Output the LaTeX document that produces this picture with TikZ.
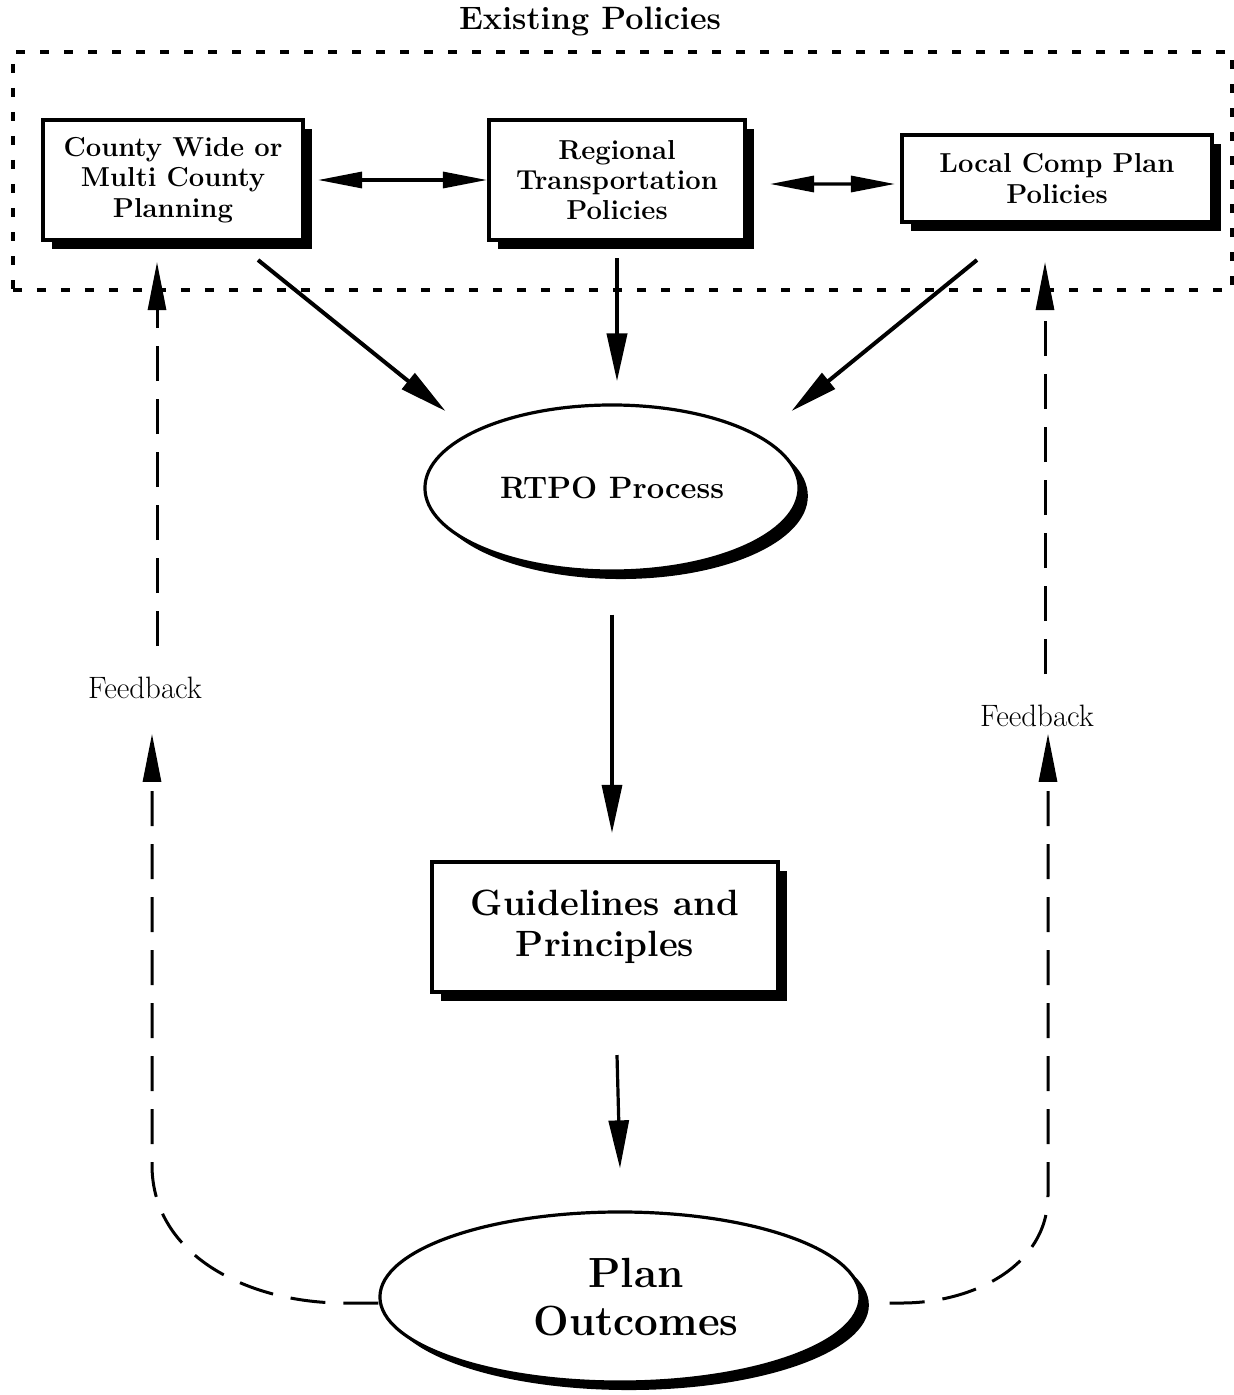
\documentclass[tikz,border=0pt]{standalone}
\usepackage{tikz}
\usetikzlibrary{arrows.meta,shadows,shapes}

\begin{document}
\begin{tikzpicture}[x=0.025cm,y=-0.025cm,
    policybox/.style={draw,line width=1mm,fill=white,align=center,
      font=\fontsize{19.5}{21.5}\selectfont\bfseries,
      drop shadow={shadow xshift=2.25mm,shadow yshift=-2.25mm,fill=black,opacity=1}},
    outcome/.style={ellipse,draw,line width=0.8mm,fill=white,align=center,
      drop shadow={shadow xshift=2.2mm,shadow yshift=-2mm,fill=black,opacity=1}},
    mainarrow/.style={line width=1mm,-{Triangle[length=12mm,width=5mm]}},
    twoway/.style={line width=0.8mm,{Triangle[length=11mm,width=4mm]}-{Triangle[length=11mm,width=4mm]}},
    feedbackline/.style={line width=0.75mm,dash pattern=on 8.75mm off 4.5mm},
    feedbackarrow/.style={feedbackline,-{Triangle[length=12mm,width=4.5mm]}},
    feedlabel/.style={font=\fontsize{22}{26}\selectfont}]
  \useasboundingbox (0,0) rectangle (1234,1395);

  \node[font=\fontsize{23}{27}\selectfont\bfseries] (title1) at (590,22) {Existing Policies};
  \node[draw,line width=1mm,dash pattern=on 2.2mm off 3.8mm,
    minimum width=30.475cm,minimum height=5.95cm] (existing) at (622.5,171) {};

  \node[policybox,minimum width=6.5cm,minimum height=3cm] (county) at (173,180)
    {County Wide or\\Multi County\\Planning};
  \node[policybox,minimum width=6.4cm,minimum height=3cm] (regional) at (617,180)
    {Regional\\Transportation\\Policies};
  \node[policybox,minimum width=7.75cm,minimum height=2.175cm] (localplan) at (1057,178.5)
    {Local Comp Plan\\Policies};

  \node[outcome,minimum width=9.35cm,minimum height=4.15cm,
    font=\fontsize{22}{26}\selectfont\bfseries] (rtpo) at (612,488) {RTPO Process};
  \node[policybox,minimum width=8.65cm,minimum height=3.25cm,
    font=\fontsize{26}{29}\selectfont\bfseries] (guide) at (605,927)
    {Guidelines and\\Principles};
  \node[outcome,minimum width=12cm,minimum height=4.25cm,
    font=\fontsize{30}{34}\selectfont\bfseries] (plan) at (620,1297)
    {\hspace*{0.8cm}Plan\\\hspace*{0.8cm}Outcomes};

  \node[feedlabel] (feed1) at (145,688) {Feedback};
  \node[feedlabel] (feed2) at (1037,716) {Feedback};

  % between the policy boxes
  \draw[twoway,shorten <=3.25mm] (county.east) -- (regional.west);
  \draw[twoway,shorten <=5.75mm,shorten >=1.25mm]
    ([shift={(0,4)}]regional.east) -- ([shift={(0,5.5)}]localplan.west);

  % into the process and down
  \draw[mainarrow] ([shift={(-47,18)}]county.south east) -- ([shift={(-33,-17)}]rtpo.north west);
  \draw[mainarrow,shorten <=4mm,shorten >=5.5mm] (regional.south) -- (regional.south |- rtpo.north);
  \draw[mainarrow] ([shift={(77,36)}]localplan.south west) -- ([shift={(46,-17)}]rtpo.north east);
  \draw[mainarrow,line width=0.8mm,shorten <=10.5mm,shorten >=6.75mm] (rtpo.south) -- (rtpo.south |- guide.north);
  \draw[mainarrow,line width=0.8mm] ([shift={(12,61)}]guide.south) -- ([shift={(0,-42)}]plan.north);

  % feedback loops
  \coordinate (lbend) at (152,1165);
  \coordinate (rbend) at (1048,1195);
  \draw[feedbackarrow,shorten >=7.5mm] ([shift={(0,6)}]plan.west) -- ++(-35,0)
    to[out=180,in=-90] (lbend) -- (lbend |- feed1.south);
  \draw[feedbackarrow,shorten <=6.5mm,shorten >=5mm] ([xshift=3mm]feed1.north) -- ([xshift=3mm]feed1.north |- county.south);
  \draw[feedbackarrow,shorten <=7mm,shorten >=0.5mm] ([shift={(0,6)}]plan.east) -- ++(40,0)
    to[out=0,in=-90] (rbend) -- (rbend |- feed2.south);
  \draw[feedbackarrow,shorten <=6.5mm,shorten >=9.5mm] ([xshift=2mm]feed2.north) -- ([xshift=2mm]feed2.north |- localplan.south);
\end{tikzpicture}
\end{document}
